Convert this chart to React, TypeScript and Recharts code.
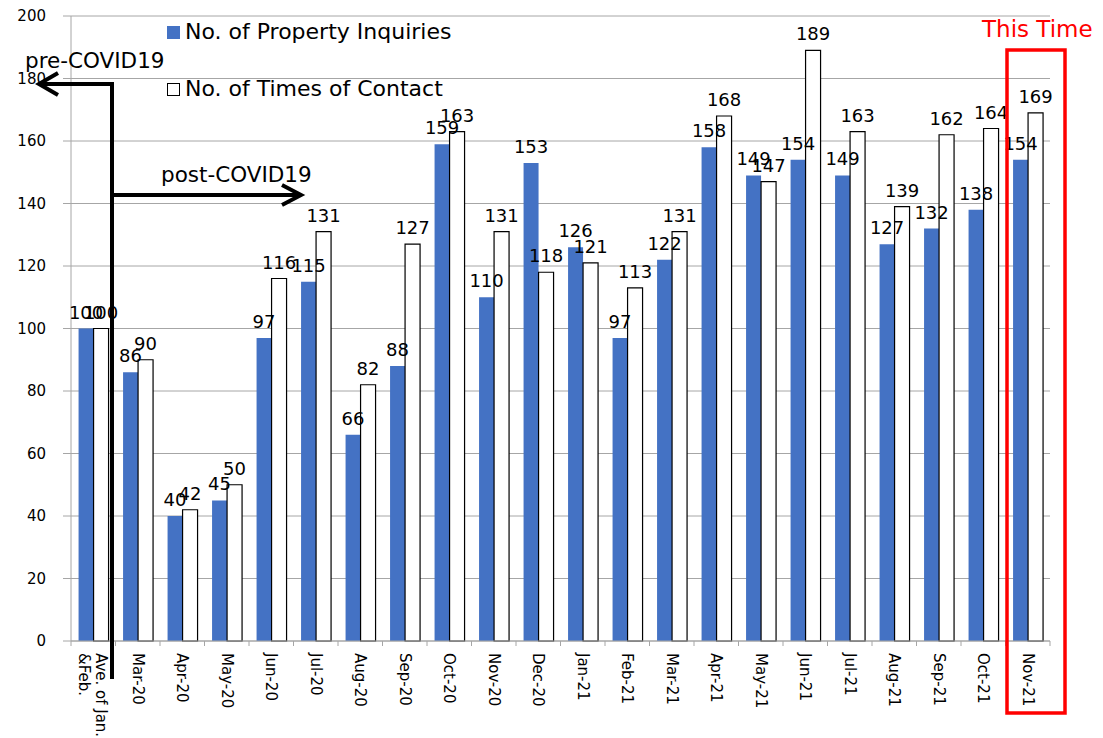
import React from 'react';
import { BarChart, Bar, XAxis, YAxis, CartesianGrid, Legend, LabelList } from 'recharts';

const months = [
  'Ave. of Jan. &Feb.', 'Mar-20', 'Apr-20', 'May-20', 'Jun-20', 'Jul-20', 'Aug-20', 'Sep-20',
  'Oct-20', 'Nov-20', 'Dec-20', 'Jan-21', 'Feb-21', 'Mar-21', 'Apr-21', 'May-21', 'Jun-21',
  'Jul-21', 'Aug-21', 'Sep-21', 'Oct-21', 'Nov-21',
];
const inquiries = [100, 86, 40, 45, 97, 115, 66, 88, 159, 110, 153, 126, 97, 122, 158, 149, 154, 149, 127, 132, 138, 154];
const contacts = [100, 90, 42, 50, 116, 131, 82, 127, 163, 131, 118, 121, 113, 131, 168, 147, 189, 163, 139, 162, 164, 169];
const yTicks = [0, 20, 40, 60, 80, 100, 120, 140, 160, 180, 200];

const data = months.map((month, i) => ({ month, inquiries: inquiries[i], contacts: contacts[i] }));

const FONT = '"DejaVu Sans", Verdana, sans-serif';
const GRID = '#a6a6a6';
const BLUE = '#4472C4';

const MonthTick = (props: any) => {
  const { x, y, payload, index } = props;
  const half = payload && payload.offset ? payload.offset : 22.25;
  const label = String(payload.value);
  const lines = label.startsWith('Ave.') ? ['Ave. of Jan.', '&Feb.'] : [label];
  const offs = lines.length > 1 ? [-3, 14] : [5];
  return (
    <g>
      <line x1={x - half} x2={x - half} y1={y} y2={y + 5} stroke={GRID} />
      {index === months.length - 1 && <line x1={x + half} x2={x + half} y1={y} y2={y + 5} stroke={GRID} />}
      <text transform={`translate(${x},${y + 12}) rotate(90)`} fontSize={15} fill="#000" fontFamily={FONT}>
        {lines.map((l, i) => (
          <tspan key={i} x={0} y={offs[i]}>{l}</tspan>
        ))}
      </text>
    </g>
  );
};

const LegendBox = () => (
  <div style={{ fontFamily: FONT, fontSize: 22, color: '#000', lineHeight: '32px', whiteSpace: 'nowrap' }}>
    <div style={{ display: 'flex', alignItems: 'center' }}>
      <span style={{ display: 'inline-block', width: 13, height: 13, background: BLUE, marginRight: 5 }} />
      No. of Property Inquiries
    </div>
    <div style={{ display: 'flex', alignItems: 'center', marginTop: 25 }}>
      <span style={{ display: 'inline-block', width: 11, height: 11, border: '1px solid #000', background: '#fff', marginRight: 5 }} />
      No. of Times of Contact
    </div>
  </div>
);

export default function App() {
  return (
    <div style={{ position: 'relative', width: 1095, height: 730, fontFamily: FONT }}>
      <BarChart
        width={1095}
        height={730}
        data={data}
        margin={{ top: 8, right: 53, bottom: 7, left: 0 }}
        barCategoryGap="17%"
        barGap={0}
      >
        <CartesianGrid horizontal vertical={false} stroke={GRID} />
        <XAxis
          dataKey="month"
          interval={0}
          height={90}
          tickSize={0}
          tickMargin={0}
          tickLine={false}
          axisLine={{ stroke: GRID }}
          tick={<MonthTick />}
        />
        <YAxis
          domain={[0, 200]}
          ticks={yTicks}
          interval={0}
          width={63}
          tickSize={8}
          tickMargin={17}
          tickLine={{ stroke: GRID }}
          axisLine={{ stroke: GRID }}
          tick={{ fill: '#000', fontSize: 15, fontFamily: FONT }}
        />
        <Legend
          layout="vertical"
          align="center"
          verticalAlign="middle"
          wrapperStyle={{ top: 8, left: 159, width: 340 }}
          content={() => <LegendBox />}
        />
        <Bar dataKey="inquiries" fill={BLUE} isAnimationActive={false}>
          <LabelList dataKey="inquiries" position="top" offset={10} fill="#000" fontSize={18} fontFamily={FONT} />
        </Bar>
        <Bar dataKey="contacts" fill="#fff" stroke="#000" strokeWidth={1.2} isAnimationActive={false}>
          <LabelList dataKey="contacts" position="top" offset={10} fill="#000" fontSize={18} fontFamily={FONT} />
        </Bar>
      </BarChart>
      <svg
        width={1095}
        height={730}
        style={{ position: 'absolute', left: 0, top: 0, pointerEvents: 'none' }}
      >
        <g stroke="#000" strokeWidth={4} fill="none">
          <line x1={104} y1={74} x2={104} y2={671} />
          <line x1={106} y1={76} x2={31} y2={76} />
          <polyline points="50,65 31,76 50,87" />
          <line x1={102} y1={187} x2={293} y2={187} />
          <polyline points="274,177 293,187 274,197" />
        </g>
        <text x={17} y={60} fontSize={21.5} fill="#000" fontFamily={FONT}>pre-COVID19</text>
        <text x={153} y={174} fontSize={21.5} fill="#000" fontFamily={FONT}>post-COVID19</text>
        <text x={974} y={29} fontSize={23} fill="#ff0000" fontFamily={FONT}>This Time</text>
        <rect x={999} y={42} width={58} height={663} stroke="#ff0000" strokeWidth={3.5} fill="none" />
      </svg>
    </div>
  );
}
